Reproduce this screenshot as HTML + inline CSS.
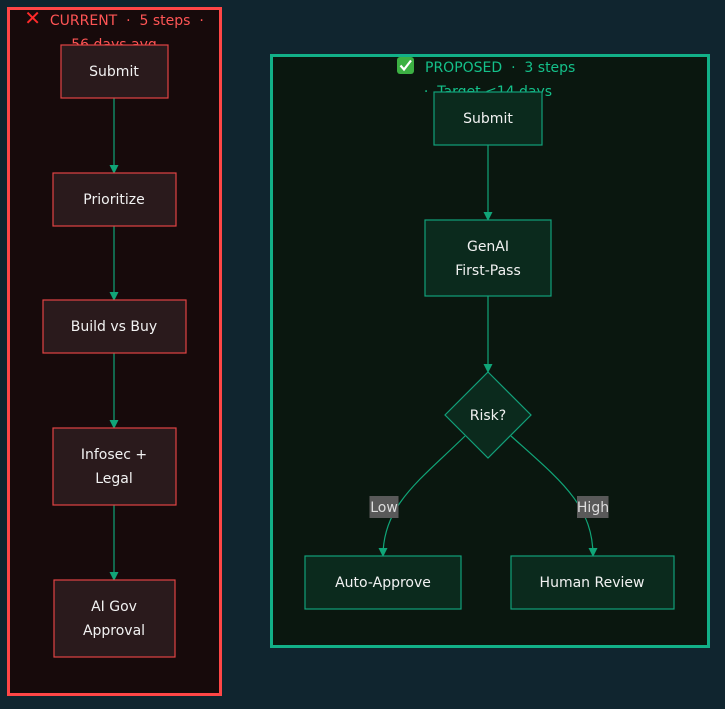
<!DOCTYPE html>
<html><head><meta charset="utf-8"><style>
html,body{margin:0;padding:0;background:#10252f;}
svg{display:block;font-family:"DejaVu Sans","Liberation Sans",sans-serif;}
text{white-space:pre;}
</style></head><body>
<svg width="725" height="709" viewBox="0 0 725 709" xmlns="http://www.w3.org/2000/svg">
<defs>
<marker id="a" markerWidth="9" markerHeight="9" refX="8" refY="4.5" orient="auto" markerUnits="userSpaceOnUse">
<path d="M0,0 L9,4.5 L0,9 z" fill="#10a578"/>
</marker>
</defs>
<rect x="0" y="0" width="725" height="709" fill="#10252f"/>
<rect x="8.5" y="8.5" width="212" height="686" fill="#170a0b" stroke="#ff4646" stroke-width="3"/>
<text x="114" y="25" text-anchor="middle" font-size="14" fill="#ff5555"><tspan fill="#ff2a2a" font-weight="bold" font-size="20">✕</tspan>  CURRENT  ·  5 steps  ·</text>
<text x="114" y="49" text-anchor="middle" font-size="14" fill="#ff5555">56 days avg</text>
<g stroke="#10a578" stroke-width="1.2" fill="none">
<line x1="114" y1="98" x2="114" y2="173" marker-end="url(#a)"/>
<line x1="114" y1="226" x2="114" y2="300" marker-end="url(#a)"/>
<line x1="114" y1="353" x2="114" y2="428" marker-end="url(#a)"/>
<line x1="114" y1="505" x2="114" y2="580" marker-end="url(#a)"/>
</g>
<g fill="#2a1a1c" stroke="#e04444" stroke-width="1.2">
<rect x="61" y="45" width="107" height="53"/>
<rect x="53" y="173" width="123" height="53"/>
<rect x="43" y="300" width="143" height="53"/>
<rect x="53" y="428" width="123" height="77"/>
<rect x="54" y="580" width="121" height="77"/>
</g>
<g fill="#f2f2f2" font-size="14" text-anchor="middle">
<text x="114" y="76">Submit</text>
<text x="114" y="204">Prioritize</text>
<text x="114" y="331">Build vs Buy</text>
<text x="114" y="459">Infosec +</text>
<text x="114" y="483">Legal</text>
<text x="114" y="611">AI Gov</text>
<text x="114" y="635">Approval</text>
</g>
<rect x="271.5" y="55.5" width="437" height="591" fill="#0a170f" stroke="#12b088" stroke-width="3"/>
<rect x="397" y="57" width="17" height="17" rx="3" fill="#3cb043"/>
<path d="M400.5,65.5 L404,69.5 L411,60.5" stroke="#fff" stroke-width="2.2" fill="none"/>
<text x="425" y="72" font-size="14" fill="#14c08a">PROPOSED  ·  3 steps</text>
<text x="488" y="96" text-anchor="middle" font-size="14" fill="#14c08a">·  Target &lt;14 days</text>
<g stroke="#10a578" stroke-width="1.2" fill="none">
<line x1="488" y1="145" x2="488" y2="220" marker-end="url(#a)"/>
<line x1="488" y1="296" x2="488" y2="372" marker-end="url(#a)"/>
<path d="M465,436 C420,480 383,505 383,556" marker-end="url(#a)"/>
<path d="M511,436 C560,480 593,505 593,556" marker-end="url(#a)"/>
</g>
<g fill="#0b2a1d" stroke="#12a07a" stroke-width="1.2">
<rect x="434" y="92" width="108" height="53"/>
<rect x="425" y="220" width="126" height="76"/>
<polygon points="488,372 531,415 488,458 445,415"/>
<rect x="305" y="556" width="156" height="53"/>
<rect x="511" y="556" width="163" height="53"/>
</g>
<rect x="369.5" y="496" width="29" height="22" fill="#595959"/>
<rect x="577" y="496" width="31.5" height="22" fill="#595959"/>
<g fill="#f2f2f2" font-size="14" text-anchor="middle">
<text x="488" y="123">Submit</text>
<text x="488" y="251">GenAI</text>
<text x="488" y="275">First-Pass</text>
<text x="488" y="420">Risk?</text>
<text x="383" y="587">Auto-Approve</text>
<text x="592" y="587">Human Review</text>
</g>
<g fill="#dddddd" font-size="14" text-anchor="middle">
<text x="384" y="512">Low</text>
<text x="593" y="512">High</text>
</g>
</svg>
</body></html>
